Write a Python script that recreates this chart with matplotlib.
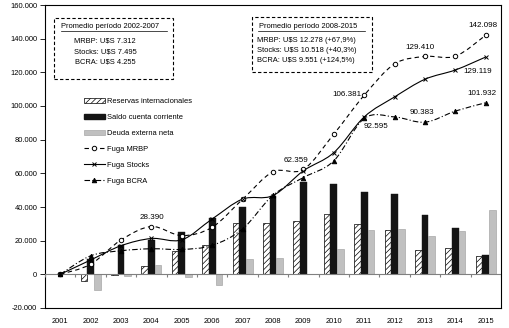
import matplotlib
matplotlib.use("Agg")
import matplotlib.pyplot as plt
from matplotlib.path import Path
from matplotlib.patches import PathPatch, Rectangle, Patch
from matplotlib.lines import Line2D
import numpy as np

years = ["2001", "2002", "2003", "2004", "2005", "2006", "2007", "2008",
         "2009", "2010", "2011", "2012", "2013", "2014", "2015"]
reservas = [0, -4200, -500, 4800, 13700, 17200, 30300, 30500, 31600, 35800,
            29900, 26500, 14400, 15600, 10900]
cuenta = [0, 9100, 17600, 20500, 25100, 33200, 40000, 46500, 55000, 53800,
          48900, 47800, 35400, 27700, 11500]
deuda = [0, -9500, -1200, 5500, -1800, -6500, 9100, 9700, 0, 15200,
         26500, 27100, 22700, 25900, 38200]
mrbp = [0, 6000, 20400, 28390, 23000, 28000, 44600, 60900, 62359, 83300,
        106381, 125000, 129410, 129600, 142098]
stocks = [0, 8500, 17000, 21300, 20500, 32900, 44700, 46800, 61500, 72300,
          93500, 105400, 115900, 121400, 129119]
bcra = [0, 11000, 14000, 15200, 14800, 17200, 27000, 47000, 57500, 67400,
        92595, 93500, 90383, 97000, 101932]

# labelled points: (series, index, offset px)
labels_mrbp = {3: (0, 9.5), 8: (-7, 9), 10: (-17, 1), 12: (-5, 9), 14: (-3, 10)}
labels_stocks = {14: (-8, -15)}
labels_bcra = {10: (12, -8), 12: (-3, 10), 14: (-4, 9)}

box1_title = "Promedio período 2002-2007"
box1_lines = ["MRBP: U$S 7.312", "Stocks: U$S 7.495", "BCRA: U$S 4.255"]
box2_title = "Promedio período 2008-2015"
box2_lines = ["MRBP: U$S 12.278 (+67,9%)", "Stocks: U$S 10.518 (+40,3%)",
              "BCRA: U$S 9.551 (+124,5%)"]

plt.rcParams['font.family'] = ['Liberation Sans', 'DejaVu Sans']
plt.rcParams['hatch.linewidth'] = 0.5
FS = 5.4

W, H = 510, 328
fig = plt.figure(figsize=(W / 100, H / 100), dpi=100)
fx = lambda x: x / W
fy = lambda y: 1 - y / H
ax = fig.add_axes([fx(45), fy(308), fx(501) - fx(45), fy(5) - fy(308)])

x = np.arange(len(years))
bw = 0.22
ax.bar(x - bw, reservas, bw, color='white', edgecolor='black', hatch='//////',
       linewidth=0.5, zorder=2)
ax.bar(x, cuenta, bw, color='#141414', edgecolor='#141414', linewidth=0.3, zorder=2)
ax.bar(x + bw, deuda, bw, color='#c0c0c0', edgecolor='#9a9a9a', linewidth=0.4, zorder=2)


def smooth_path(xs, ys):
    pts = np.column_stack([xs, ys]).astype(float)
    n = len(pts)
    verts = [pts[0]]
    codes = [Path.MOVETO]
    for i in range(n - 1):
        p0 = pts[i - 1] if i > 0 else pts[i]
        p1 = pts[i]
        p2 = pts[i + 1]
        p3 = pts[i + 2] if i + 2 < n else pts[i + 1]
        c1 = p1 + (p2 - p0) / 6.0
        c2 = p2 - (p3 - p1) / 6.0
        verts += [c1, c2, p2]
        codes += [Path.CURVE4] * 3
    return Path(verts, codes)


line_specs = [
    (mrbp, (0, (4, 3)), 'o', 'white', 3.2),
    (stocks, '-', 'x', 'black', 3.2),
    (bcra, (0, (5, 2, 1, 2)), '^', 'black', 3.2),
]
for ys, ls, mk, mfc, ms in line_specs:
    ax.add_patch(PathPatch(smooth_path(x, ys), fill=False, edgecolor='black',
                           linewidth=0.8, linestyle=ls, zorder=4))
    ax.plot(x, ys, linestyle='none', marker=mk, markersize=ms,
            markerfacecolor=mfc, markeredgecolor='black', markeredgewidth=0.7,
            zorder=5)

for ys, labs in [(mrbp, labels_mrbp), (stocks, labels_stocks), (bcra, labels_bcra)]:
    for i, (dx, dy) in labs.items():
        ax.annotate(f"{ys[i]:,}".replace(",", "."), (x[i], ys[i]),
                    xytext=(dx, dy), textcoords='offset pixels',
                    ha='center', va='center', fontsize=5.8, zorder=6)

ax.set_xlim(-0.5, len(years) - 0.5)
ax.set_ylim(-20000, 160000)
yt = np.arange(-20000, 160001, 20000)
ax.set_yticks(yt)
ax.set_yticklabels([f"{v:,}".replace(",", ".") for v in yt], fontsize=FS)
ax.tick_params(axis='y', direction='out', length=3.6, width=0.6, pad=2)
ax.set_xticks(x)
ax.set_xticklabels(years, fontsize=FS)
ax.tick_params(axis='x', length=0, pad=7)
for sp in ax.spines.values():
    sp.set_linewidth(0.8)
    sp.set_color('black')

# zero line with category boundary ticks
ax.axhline(0, color='#808080', linewidth=0.8, zorder=3)
ax.vlines(np.arange(-0.5, len(years)), -1800, 0, color='#808080', linewidth=0.8, zorder=3)

handles = [
    Patch(facecolor='white', edgecolor='black', hatch='//////', linewidth=0.5),
    Patch(facecolor='#141414', edgecolor='#141414'),
    Patch(facecolor='#c0c0c0', edgecolor='#9a9a9a', linewidth=0.4),
    Line2D([], [], color='black', linewidth=0.8, linestyle=(0, (4, 3)), marker='o',
           markersize=3.2, markerfacecolor='white', markeredgewidth=0.7),
    Line2D([], [], color='black', linewidth=0.8, linestyle='-', marker='x',
           markersize=3.2, markeredgewidth=0.7),
    Line2D([], [], color='black', linewidth=0.8, linestyle=(0, (5, 2, 1, 2)), marker='^',
           markersize=3.2, markeredgewidth=0.7),
]
names = ["Reservas internacionales", "Saldo cuenta corriente", "Deuda externa neta",
         "Fuga MRBP", "Fuga Stocks", "Fuga BCRA"]
fig.legend(handles, names, loc='upper left', bbox_to_anchor=(fx(84), fy(98)),
           bbox_transform=fig.transFigure, frameon=False, fontsize=FS,
           handlelength=2.8, handleheight=0.7, handletextpad=0.3,
           labelspacing=1.15, borderpad=0, borderaxespad=0)

# annotation boxes
for (x0, y0, x1, y1) in [(54, 18, 173, 79), (252, 17, 372, 72)]:
    fig.add_artist(Rectangle((fx(x0), fy(y1)), fx(x1) - fx(x0), fy(y0) - fy(y1),
                             transform=fig.transFigure, fill=True, facecolor='white',
                             edgecolor='black', linewidth=0.8, linestyle=(0, (3, 2)),
                             zorder=7))

fig.text(fx(61), fy(26), box1_title, fontsize=FS, ha='left', va='center', zorder=8)
fig.add_artist(Line2D([fx(61), fx(167)], [fy(31), fy(31)], transform=fig.transFigure,
                      color='black', linewidth=0.5, zorder=8))
for yy, t in zip([41, 51.5, 61.5], box1_lines):
    fig.text(fx(105), fy(yy), t, fontsize=FS, ha='center', va='center', zorder=8)

fig.text(fx(259), fy(26), box2_title, fontsize=FS, ha='left', va='center', zorder=8)
fig.add_artist(Line2D([fx(258), fx(365)], [fy(30.5), fy(30.5)], transform=fig.transFigure,
                      color='black', linewidth=0.5, zorder=8))
for yy, t in zip([40.5, 50.5, 61], box2_lines):
    fig.text(fx(257), fy(yy), t, fontsize=FS, ha='left', va='center', zorder=8)

fig.savefig("out.png", dpi=100)
